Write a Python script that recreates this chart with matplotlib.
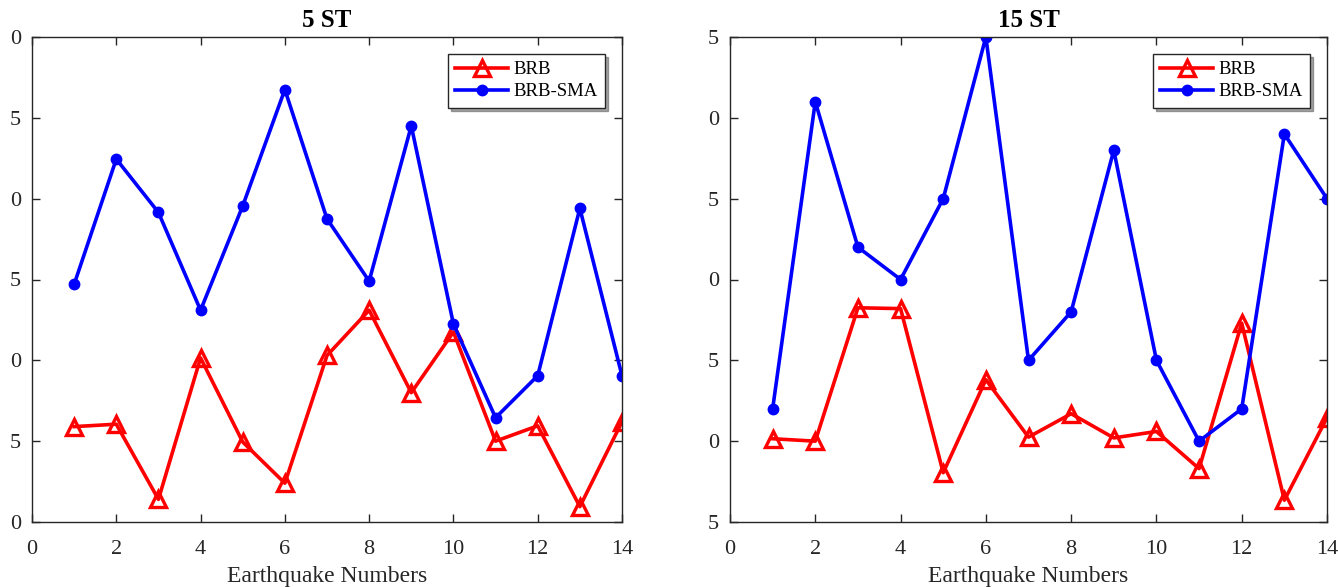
import numpy as np
import matplotlib.pyplot as plt
from matplotlib.ticker import FixedLocator, FuncFormatter

# -----------------------------------------------
# Data
# -----------------------------------------------
quake_no = list(range(1, 15))

brb_5st = [5.9, 6.05, 1.4, 10.15, 4.95, 2.4, 10.3, 13.1, 8.0, 11.75, 5.0, 5.95, 0.95, 6.2]
sma_5st = [14.7, 22.45, 19.15, 13.1, 19.55, 26.75, 18.75, 14.9, 24.5, 12.25, 6.45, 9.05, 19.4, 9.05]

brb_15st = [10.15, 10.0, 18.25, 18.2, 8.05, 13.8, 10.25, 11.7, 10.2, 10.6, 8.3, 17.3, 6.35, 11.45]
sma_15st = [12.0, 31.0, 22.0, 20.0, 25.0, 35.0, 15.0, 18.0, 28.0, 15.0, 10.0, 12.0, 29.0, 25.0]

titles = ["5 ST", "15 ST"]
y_ranges = [(0, 30), (5, 35)]

plt.rcParams['font.family'] = ['Liberation Serif', 'DejaVu Serif']

fig = plt.figure(figsize=(13.38, 5.87), dpi=100)
ax1 = fig.add_axes([32 / 1338, 65 / 587, 590 / 1338, 485 / 587])
ax2 = fig.add_axes([730 / 1338, 65 / 587, 597 / 1338, 485 / 587])

# y tick labels in the reference are clipped to the last digit
last_digit = FuncFormatter(lambda v, pos: str(int(round(v)))[-1])

for ax, title, (lo, hi), brb, sma in zip([ax1, ax2], titles, y_ranges,
                                        [brb_5st, brb_15st], [sma_5st, sma_15st]):
    ax.plot(quake_no, brb, color='red', lw=2.6, marker='^', ms=11,
            mfc='none', mec='red', mew=2.4, label='BRB')
    ax.plot(quake_no, sma, color='blue', lw=2.6, marker='o', ms=7.5,
            mfc='blue', mec='blue', label='BRB-SMA')

    ax.set_xlim(0, 14)
    ax.set_ylim(lo, hi)
    ax.xaxis.set_major_locator(FixedLocator(np.arange(0, 15, 2)))
    ax.yaxis.set_major_locator(FixedLocator(np.arange(lo, hi + 1, 5)))
    ax.yaxis.set_major_formatter(last_digit)
    ax.tick_params(direction='in', top=True, right=True, length=6,
                   width=1, labelsize=16, colors='#262626')
    ax.tick_params(axis='x', pad=13)
    ax.tick_params(axis='y', pad=8)
    for s in ax.spines.values():
        s.set_color('#262626')
        s.set_linewidth(1)

    ax.set_title(title, fontsize=18, fontweight='bold', pad=7)
    ax.set_xlabel('Earthquake Numbers', fontsize=17, color='#262626', labelpad=5)

    leg = ax.legend(loc='upper right', fontsize=13.5, fancybox=False, shadow=True,
                    framealpha=1, edgecolor='#262626', borderaxespad=0.9,
                    handlelength=2.8, handletextpad=0.3, labelspacing=0.25,
                    borderpad=0.4)
    leg.get_frame().set_linewidth(1)

fig.savefig('out.png', dpi=100)
